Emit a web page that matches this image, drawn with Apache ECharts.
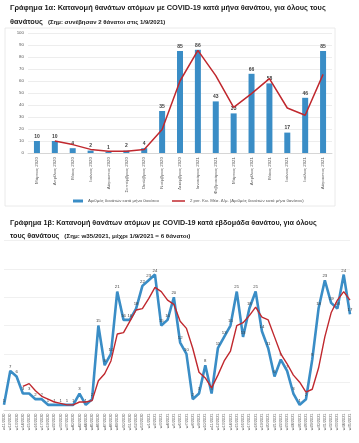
<!DOCTYPE html>
<html><head><meta charset="utf-8">
<script src="https://cdn.jsdelivr.net/npm/echarts@6/dist/echarts.min.js"></script>
<style>html,body{margin:0;padding:0;background:#fff}#c{width:359px;height:443px}</style>
</head><body><div id="c"></div>
<script>
const title1a = 'Γράφημα 1α: Κατανομή θανάτων ατόμων με COVID-19 κατά μήνα θανάτου, για όλους τους';
const title1aL2 = 'θανάτους';
const note1a = '(Σημ: συνέβησαν 2 θάνατοι στις 1/9/2021)';
const title1b = 'Γράφημα 1β: Κατανομή θανάτων ατόμων με COVID-19 κατά εβδομάδα θανάτου, για όλους';
const title1bL2 = 'τους θανάτους';
const note1b = '(Σημ: w35/2021, μέχρι 1/9/2021 = 6 θάνατοι)';

const months = ['Μάρτιος 2020','Απρίλιος 2020','Μάιος 2020','Ιούνιος 2020','Αύγουστος 2020','Σεπτέμβριος 2020','Οκτώβριος 2020','Νοέμβριος 2020','Δεκέμβριος 2020','Ιανουάριος 2021','Φεβρουάριος 2021','Μάρτιος 2021','Απρίλιος 2021','Μάιος 2021','Ιούνιος 2021','Ιούλιος 2021','Αύγουστος 2021'];
const monthlyDeaths = [10,10,4,2,1,2,4,35,85,86,43,33,66,58,17,46,85];
const monthlyAvg = [null,10,7,3,1.5,1.5,3,19.5,60,85.5,64.5,38,49.5,62,37.5,31.5,65.5];
const monthTicks = [0,10,20,30,40,50,60,70,80,90,100];
const legendBar = 'Αριθμός θανάτων κατά μήνα θανάτου';
const legendLine = '2 per. Κιν. Μέσ. Δ/μ. (Αριθμός θανάτων κατά μήνα θανάτου)';

const weeks = ['w11/2020','w12/2020','w13/2020','w14/2020','w15/2020','w16/2020','w17/2020','w19/2020','w22/2020',
 'w33/2020','w37/2020','w40/2020','w42/2020','w44/2020',
 'w45/2020','w46/2020','w47/2020','w48/2020','w49/2020','w50/2020','w51/2020','w52/2020','w53/2020',
 'w1/2021','w2/2021','w3/2021','w4/2021','w5/2021','w6/2021','w7/2021','w8/2021','w9/2021','w10/2021',
 'w11/2021','w12/2021','w13/2021','w14/2021','w15/2021','w16/2021','w17/2021','w18/2021','w19/2021','w20/2021',
 'w21/2021','w22/2021','w23/2021','w24/2021','w26/2021','w28/2021','w29/2021','w30/2021','w31/2021','w32/2021',
 'w33/2021','w34/2021','w35/2021'];
const weeklyDeaths = [1,7,6,3,3,2,2,1,1,1,1,1,3,1,2,15,8,10,21,16,16,18,22,23,24,15,16,20,12,10,2,3,8,3,11,13,15,21,13,18,21,14,11,6,9,7,3,1,2,9,18,23,19,18,24,17];
const weeklyAvg = [null,null,null,4.25,4.75,3.5,2.5,2,1.5,1.25,1,1,1.5,1.5,1.75,5.25,6.5,8.75,13.5,13.75,15.75,17.75,18,19.75,21.75,21,19.5,18.75,15.75,14.5,11,6.75,5.75,4,6.25,8.75,10.5,15,15.5,16.75,18.25,16.5,16,13,10,8.25,6.25,5,3.25,3.75,7.5,13,17.25,19.5,21,19.5];

const FONT = 'Liberation Sans';
const BLUE = '#3A8DC6', RED = '#C0282E', GRAY = '#595959';
const richTop = {a:{fontSize:7.4,fontWeight:'bold',color:'#1a1a1a',fontFamily:FONT,lineHeight:11},
                 b:{fontSize:6,fontWeight:'bold',color:'#1a1a1a',fontFamily:FONT,lineHeight:11}};
const richBot = {a:{fontSize:7.2,fontWeight:'bold',color:'#1a1a1a',fontFamily:FONT,lineHeight:9.5},
                 b:{fontSize:6.2,fontWeight:'bold',color:'#1a1a1a',fontFamily:FONT,lineHeight:9.5}};

const chart = echarts.init(document.getElementById('c'), null, {renderer:'canvas'});
chart.setOption({
  animation:false,
  textStyle:{fontFamily:FONT},
  graphic:[{type:'rect',shape:{x:5,y:28,width:330,height:178},style:{fill:'none',stroke:'#e4e4e4',lineWidth:0.8},silent:true}],
  title:[
    {left:10,top:2,padding:0,text:'{a|'+title1a+'}\n{a|'+title1aL2+'} {b|'+note1a+'}',textStyle:{rich:richTop}},
    {left:10,top:218,padding:0,text:'{a|'+title1b+'}\n{a|'+title1bL2+'} {b|'+note1b+'}',textStyle:{rich:richBot}}
  ],
  legend:[
    {left:68,top:194,itemWidth:10,itemHeight:3,textStyle:{fontSize:4.3,color:GRAY,fontFamily:FONT},data:[{name:legendBar,icon:'rect'}]},
    {left:167,top:194,itemWidth:13,itemHeight:1.5,textStyle:{fontSize:4.3,color:GRAY,fontFamily:FONT},data:[{name:legendLine,icon:'rect'}]}
  ],
  grid:[
    {left:28,top:33,width:304,height:120},
    {left:4,right:9,top:240.6,height:169.9}
  ],
  xAxis:[
    {type:'category',gridIndex:0,data:months,boundaryGap:true,
     axisTick:{show:false},axisLine:{lineStyle:{color:'#d0d0d0',width:0.8}},
     axisLabel:{rotate:90,interval:0,fontSize:4.4,color:GRAY,margin:4}},
    {type:'category',gridIndex:1,data:weeks,boundaryGap:false,
     axisTick:{show:false},axisLine:{lineStyle:{color:'#d0d0d0',width:0.8}},
     axisLabel:{rotate:90,interval:0,fontSize:3.9,color:GRAY,margin:3}}
  ],
  yAxis:[
    {type:'value',gridIndex:0,min:monthTicks[0],max:monthTicks[monthTicks.length-1],interval:10,
     axisLine:{show:false},axisTick:{show:false},
     axisLabel:{fontSize:4.4,color:GRAY,margin:4},
     splitLine:{lineStyle:{color:'#e8e8e8',width:0.8}}},
    {type:'value',gridIndex:1,min:0,max:30,interval:5,
     axisLine:{show:false},axisTick:{show:false},axisLabel:{show:false},
     splitLine:{lineStyle:{color:'#ececec',width:0.8}}}
  ],
  series:[
    {name:legendBar,type:'bar',xAxisIndex:0,yAxisIndex:0,data:monthlyDeaths,barWidth:6,
     itemStyle:{color:BLUE},
     label:{show:true,position:'top',distance:2,fontSize:5,fontWeight:'bold',color:'#404040'}},
    {name:legendLine,type:'line',xAxisIndex:0,yAxisIndex:0,data:monthlyAvg,
     symbol:'none',lineStyle:{color:RED,width:1.5},itemStyle:{color:RED},z:5},
    {name:'weekly',type:'line',xAxisIndex:1,yAxisIndex:1,data:weeklyDeaths,
     symbol:'circle',symbolSize:0.5,showAllSymbol:true,itemStyle:{color:BLUE},
     lineStyle:{color:BLUE,width:2.6},
     label:{show:true,position:'top',distance:2,fontSize:4.3,color:'#404040'}},
    {name:'weeklyAvg',type:'line',xAxisIndex:1,yAxisIndex:1,data:weeklyAvg,
     symbol:'none',lineStyle:{color:RED,width:1.4},itemStyle:{color:RED},z:5}
  ]
});
</script></body></html>
